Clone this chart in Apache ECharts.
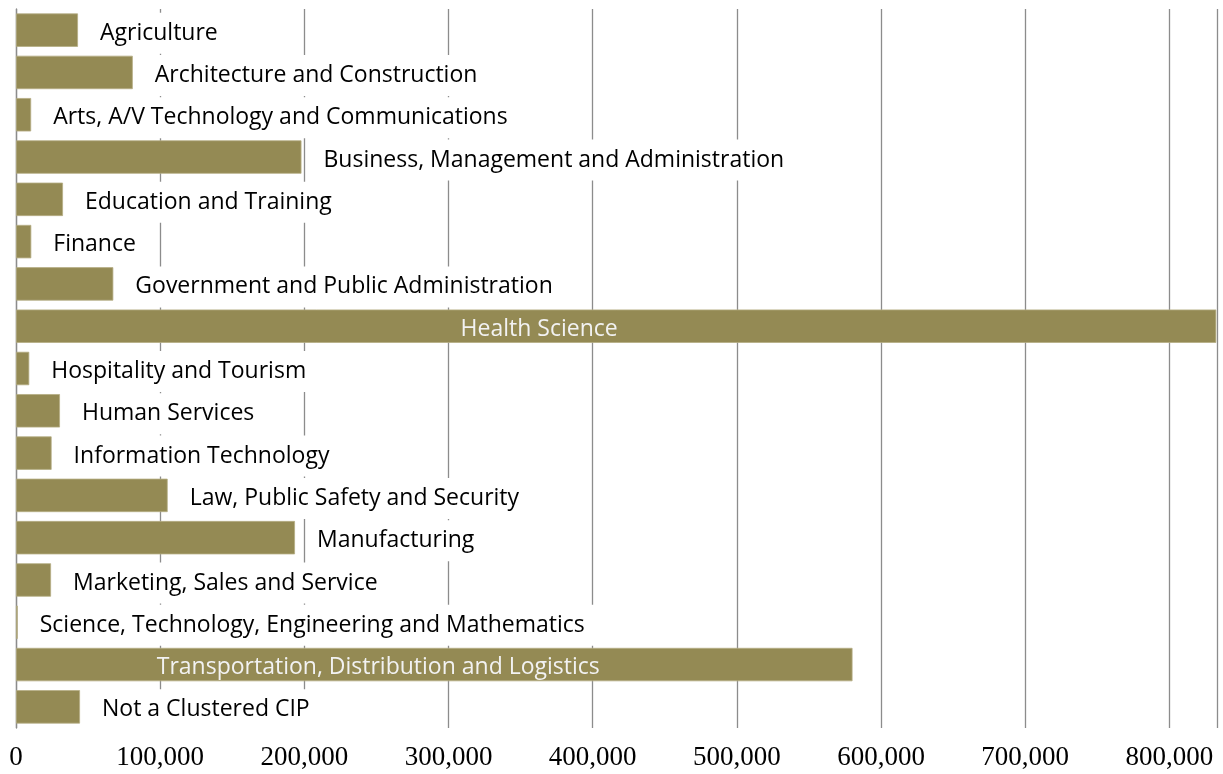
<!DOCTYPE html>
<html>
<head>
<meta charset="utf-8">
<script src="https://cdn.jsdelivr.net/npm/echarts@6/dist/echarts.min.js"></script>
<style>
  html, body { margin: 0; padding: 0; background: #fff; }
  #chart { width: 1223px; height: 774px; }
</style>
</head>
<body>
<div id="chart"></div>
<script>
// Career clusters and their counts
const clusters = [
  'Agriculture',
  'Architecture and Construction',
  'Arts, A/V Technology and Communications',
  'Business, Management and Administration',
  'Education and Training',
  'Finance',
  'Government and Public Administration',
  'Health Science',
  'Hospitality and Tourism',
  'Human Services',
  'Information Technology',
  'Law, Public Safety and Security',
  'Manufacturing',
  'Marketing, Sales and Service',
  'Science, Technology, Engineering and Mathematics',
  'Transportation, Distribution and Logistics',
  'Not a Clustered CIP'
];
const counts = [
  43000, 81000, 10500, 198000, 32600, 10600, 67500, 832500,
  9200, 30500, 24700, 105200, 193500, 24300, 1200, 580200, 44400
];
const axisTicks = [0, 100000, 200000, 300000, 400000, 500000, 600000, 700000, 800000];

// Long bars carry their label inside, in light text
const insideLabels = {
  'Health Science': [-77, 3],
  'Transportation, Distribution and Logistics': [-56, 3]
};

const barColor = '#948A54';

const seriesData = clusters.map((name, i) => {
  const item = { value: counts[i], name: name };
  if (insideLabels[name]) {
    item.label = {
      position: 'inside',
      offset: insideLabels[name],
      color: '#F2F2F2',
      backgroundColor: 'transparent',
      padding: 0
    };
  }
  return item;
});

const chart = echarts.init(document.getElementById('chart'), null, { renderer: 'canvas' });
chart.setOption({
  animation: false,
  backgroundColor: '#ffffff',
  grid: { left: 16, right: 6, top: 9, bottom: 46, containLabel: false },
  xAxis: {
    type: 'value',
    min: 0,
    max: 833000,
    interval: 100000,
    axisLine: { show: false },
    axisTick: { show: false },
    splitLine: { show: true, lineStyle: { color: '#8C8C8C', width: 1.3 } },
    axisLabel: {
      fontFamily: '"Liberation Serif", "Times New Roman", serif',
      fontSize: 27,
      color: '#000',
      margin: 16,
      formatter: v => axisTicks.includes(v) ? v.toLocaleString('en-US') : ''
    }
  },
  yAxis: {
    type: 'category',
    data: clusters,
    inverse: true,
    axisLine: { show: true, lineStyle: { color: '#8C8C8C', width: 1.3 } },
    axisTick: { show: false },
    axisLabel: { show: false },
    splitLine: { show: false }
  },
  series: [{
    type: 'bar',
    data: seriesData,
    barWidth: '79%',
    itemStyle: { color: barColor, borderColor: '#B5AD84', borderWidth: 0.8 },
    label: {
      show: true,
      position: 'right',
      distance: 12,
      offset: [0, 3],
      formatter: '{b}',
      fontFamily: '"Open Sans", "Noto Sans", sans-serif',
      fontSize: 23,
      color: '#000',
      backgroundColor: '#ffffff',
      padding: [8, 10, 10, 10]
    }
  }]
});
</script>
</body>
</html>
